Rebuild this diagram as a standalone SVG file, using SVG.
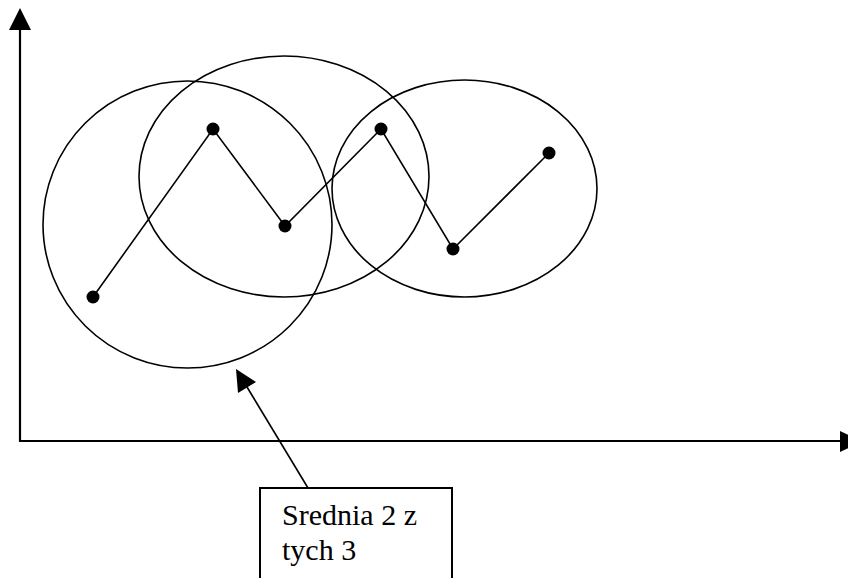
<svg xmlns="http://www.w3.org/2000/svg" width="848" height="578" viewBox="0 0 848 578">
<style>
.ax{stroke:#000;stroke-width:2.2;fill:none}
.el{stroke:#000;stroke-width:1.6;fill:none}
.ln{stroke:#000;stroke-width:1.6;fill:none}
.pt{fill:#000}
.hd{fill:#000;stroke:none}
.lbl{font-family:"Liberation Serif","Times New Roman",serif;font-size:30px;fill:#000}
</style>
<rect width="848" height="578" fill="#fff"/>
<g id="axes">
<line class="ax" x1="20" y1="28" x2="20" y2="441"/>
<line class="ax" x1="19" y1="441" x2="842" y2="441"/>
<polygon class="hd" points="20,8 9,30 31,30"/>
<polygon class="hd" points="840,431 840,452 862,441.5"/>
</g>
<g id="circle-1"><ellipse class="el" cx="187.5" cy="224.5" rx="144.5" ry="143.5"/></g>
<g id="circle-2"><ellipse class="el" cx="284" cy="176.5" rx="145" ry="120.5"/></g>
<g id="circle-3"><ellipse class="el" cx="464.5" cy="188.5" rx="132.5" ry="108.5"/></g>
<g id="connectors">
<polyline class="ln" points="93,297 213,129 285,226 381,129 453,249 549,153"/>
<line class="ln" x1="308" y1="488" x2="247" y2="387"/>
<polygon class="hd" points="236,369 238,393 256,382"/>
</g>
<g id="points">
<circle class="pt" cx="93" cy="297" r="6.5"/>
<circle class="pt" cx="213" cy="129" r="6.5"/>
<circle class="pt" cx="285" cy="226" r="6.5"/>
<circle class="pt" cx="381" cy="129" r="6.5"/>
<circle class="pt" cx="453" cy="249" r="6.5"/>
<circle class="pt" cx="549" cy="153" r="6.5"/>
</g>
<g id="label">
<rect x="260" y="488" width="192" height="100" fill="#fff" stroke="#000" stroke-width="2"/>
<text class="lbl" x="282" y="525">Srednia 2 z</text>
<text class="lbl" x="282" y="560">tych 3</text>
</g>
</svg>
